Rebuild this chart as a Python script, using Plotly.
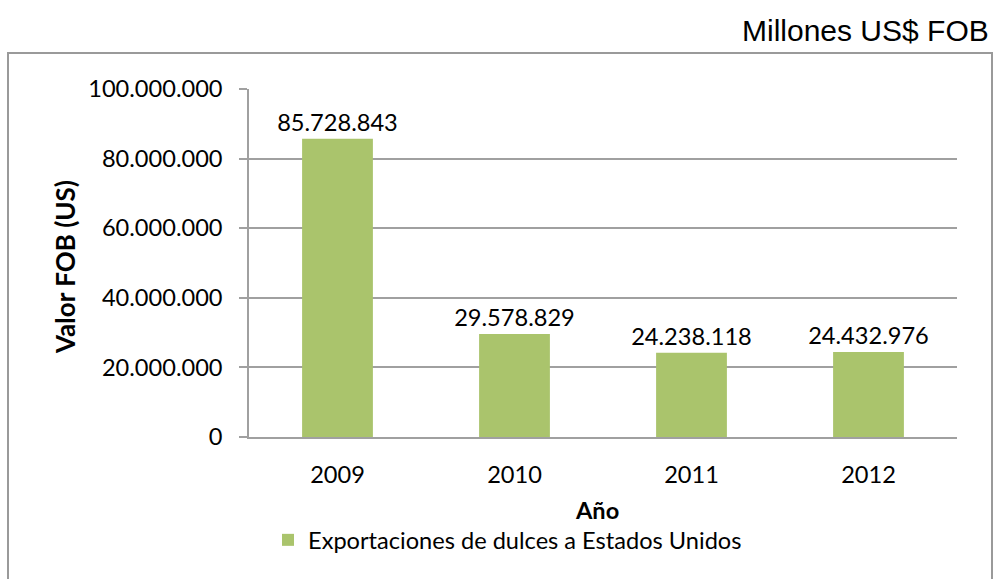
import plotly.graph_objects as go

# Annual candy exports to the United States (FOB value, US$)
years = ["2009", "2010", "2011", "2012"]
export_values = [85728843, 29578829, 24238118, 24432976]
series_name = "Exportaciones de dulces a Estados Unidos"
y_ticks = [0, 20000000, 40000000, 60000000, 80000000, 100000000]

W, H = 996, 579
L, R, T, B = 249, 39, 89, 142
PW, PH = W - L - R, H - T - B


def px_x(x):
    return (x - L) / PW


def px_y(y):
    return (H - B - y) / PH


FONT = "Lato"
FS = 23.6
BAR = "#AAC46C"
GRID = "#A0A0A0"

fig = go.Figure()
fig.add_trace(go.Bar(
    x=years,
    y=export_values,
    name=series_name,
    marker=dict(color=BAR, line=dict(width=0)),
    width=0.4,
    texttemplate="%{y:,d}",
    textposition="outside",
    constraintext="none",
    textfont=dict(family=FONT, size=FS, color="#000000"),
    cliponaxis=False,
    showlegend=True,
))

fig.update_layout(
    width=W,
    height=H,
    margin=dict(l=L, r=R, t=T, b=B),
    paper_bgcolor="white",
    plot_bgcolor="white",
    separators=",.",
    font=dict(family=FONT, size=FS, color="#000000"),
    showlegend=True,
    legend=dict(
        orientation="h",
        x=px_x(268), xanchor="left",
        y=px_y(540), yanchor="middle",
        font=dict(family=FONT, size=FS, color="#000000"),
        bgcolor="rgba(0,0,0,0)",
        itemwidth=30,
    ),
    bargap=0.6,
)

fig.update_yaxes(
    range=[0, 100000000],
    tickvals=y_ticks,
    tickformat=",d",
    showgrid=True,
    gridcolor=GRID,
    gridwidth=1.5,
    showline=True,
    linecolor=GRID,
    linewidth=1.5,
    ticks="outside",
    ticklen=8,
    tickcolor=GRID,
    tickwidth=1.5,
    ticklabelstandoff=12,
    zeroline=False,
    tickfont=dict(family=FONT, size=FS, color="#000000"),
)
fig.update_xaxes(
    showline=True,
    linecolor=GRID,
    linewidth=1.5,
    ticks="",
    ticklabelstandoff=16,
    tickfont=dict(family=FONT, size=FS, color="#000000"),
)

# Outer chart frame
fig.add_shape(
    type="rect", xref="paper", yref="paper",
    x0=px_x(8), x1=px_x(992), y0=px_y(600), y1=px_y(53),
    line=dict(color="#9A9A9A", width=2), fillcolor="rgba(0,0,0,0)",
    layer="below",
)

fig.add_annotation(
    text="<b>Valor FOB (US)</b>", xref="paper", yref="paper",
    x=px_x(65), y=px_y(267), xanchor="center", yanchor="middle",
    textangle=-90, showarrow=False,
    font=dict(family=FONT, size=26, color="#000000"),
)
fig.add_annotation(
    text="<b>Año</b>", xref="paper", yref="paper",
    x=px_x(597), y=px_y(510), xanchor="center", yanchor="middle",
    showarrow=False,
    font=dict(family=FONT, size=FS, color="#000000"),
)
fig.add_annotation(
    text="Millones US$ FOB", xref="paper", yref="paper",
    x=px_x(991), y=px_y(30), xanchor="right", yanchor="middle",
    showarrow=False,
    font=dict(family="Liberation Sans", size=30, color="#000000"),
)

fig.write_html("out.html")
